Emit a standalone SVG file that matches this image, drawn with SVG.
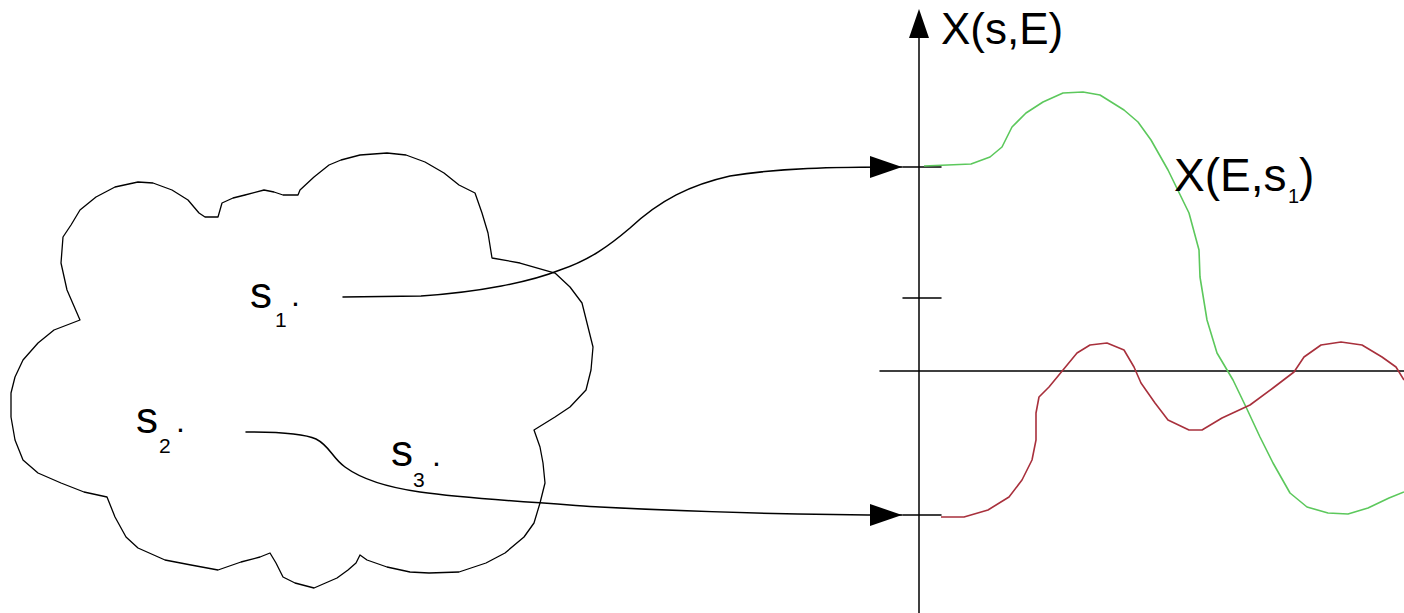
<svg xmlns="http://www.w3.org/2000/svg" width="1404" height="613" viewBox="0 0 1404 613">
<style>
.ln{fill:none;stroke:#000;stroke-width:1.5;stroke-linejoin:round;stroke-linecap:round}
.cl{fill:none;stroke:#000;stroke-width:1.3;stroke-linejoin:round}
.t{font-family:"Liberation Sans",Arial,sans-serif;fill:#000}
.green{fill:none;stroke:#5cc85c;stroke-width:1.6;stroke-linejoin:round}
.red{fill:none;stroke:#a8303c;stroke-width:1.6;stroke-linejoin:round}
</style>
<defs>
<marker id="ah" markerUnits="userSpaceOnUse" markerWidth="34" markerHeight="22" refX="32" refY="11" orient="auto">
<path d="M0,0 L32,11 L0,22 z" fill="#000"/>
</marker>
</defs>
<rect width="1404" height="613" fill="#fff"/>
<g id="cloud">
<polygon class="cl" points="80,320 67,290 61,263 63,237 71,225 80,210 96,197 115,187 138,182 153,183 172,190 188,200 199,213 205,217 218,217 222,203 233,198 245,195 264,190 274,192 283,195 298,195 300,190 314,177 329,165 341,160 360,155 387,153 406,155 425,162 444,173 459,185 475,193 482,213 488,233 492,258 520,263 555,273 570,287 582,303 587,323 593,347 591,370 586,390 570,407 555,417 534,430 540,447 543,463 545,483 540,503 534,523 524,537 505,553 486,563 459,572 429,573 410,572 387,567 367,560 360,555 356,563 348,570 337,578 314,588 295,583 283,577 276,563 270,553 260,557 241,562 218,570 191,565 165,560 138,548 126,537 115,517 107,497 84,492 61,483 38,473 23,460 15,440 11,417 11,393 15,377 23,360 38,343 54,330"/>
</g>
<g id="label-s1">
<text class="t" x="250" y="308" font-size="44">s</text>
<text class="t" x="275" y="327" font-size="21">1</text>
<text class="t" x="291" y="306" font-size="32">.</text>
</g>
<g id="label-s2">
<text class="t" x="136" y="433" font-size="44">s</text>
<text class="t" x="159" y="453" font-size="21">2</text>
<text class="t" x="176" y="432" font-size="32">.</text>
</g>
<g id="label-s3">
<text class="t" x="391" y="466" font-size="44">s</text>
<text class="t" x="413" y="487" font-size="21">3</text>
<text class="t" x="432" y="466" font-size="32">.</text>
</g>
<g id="axes">
<line class="ln" x1="919" y1="613" x2="919" y2="36"/>
<path d="M919,9 L929,38 L909,38 z" fill="#000"/>
<line class="ln" x1="880" y1="371" x2="1404" y2="371"/>
<line class="ln" x1="903" y1="298" x2="941" y2="298"/>
<line class="ln" x1="903" y1="167" x2="941" y2="167"/>
<line class="ln" x1="903" y1="515" x2="941" y2="515"/>
<text class="t" x="941" y="44" font-size="44">X(s,E)</text>
</g>
<g id="connectors">
<path class="ln" marker-end="url(#ah)" d="M343,297 L421,296 C480,292 530,282 560,270 C590,260 610,245 630,228 C660,200 690,185 730,176 C780,168 830,167 902,167"/>
<path class="ln" marker-end="url(#ah)" d="M246,432 C280,432 305,434 316,439 C330,446 332,458 345,467 C360,478 385,487 420,492 C470,499 540,503 600,507 C700,512 800,515 902,515"/>
</g>
<g id="curve-s1">
<polyline class="green" points="924,166 971,164 990,157 1002,147 1012,127 1026,113 1043,102 1063,93 1083,92 1100,95 1124,110 1138,122 1151,140 1168,170 1189,213 1199,250 1200,277 1207,320 1217,353 1233,380 1246,407 1260,437 1273,463 1290,493 1307,507 1328,513 1348,514 1368,508 1389,498 1404,492"/>
<text class="t" x="1174" y="191" font-size="46">X(E,s</text>
<text class="t" x="1288" y="203" font-size="20">1</text>
<text class="t" x="1299" y="191" font-size="46">)</text>
</g>
<g id="curve-s2">
<polyline class="red" points="941,517 964,517 988,510 1009,497 1022,480 1032,460 1036,440 1036,413 1039,397 1049,387 1063,370 1077,353 1090,345 1107,343 1124,350 1134,367 1141,383 1155,403 1168,420 1189,430 1202,430 1222,418 1250,405 1273,388 1294,372 1304,357 1321,345 1341,342 1362,345 1382,357 1396,367 1404,380"/>
</g>
</svg>
